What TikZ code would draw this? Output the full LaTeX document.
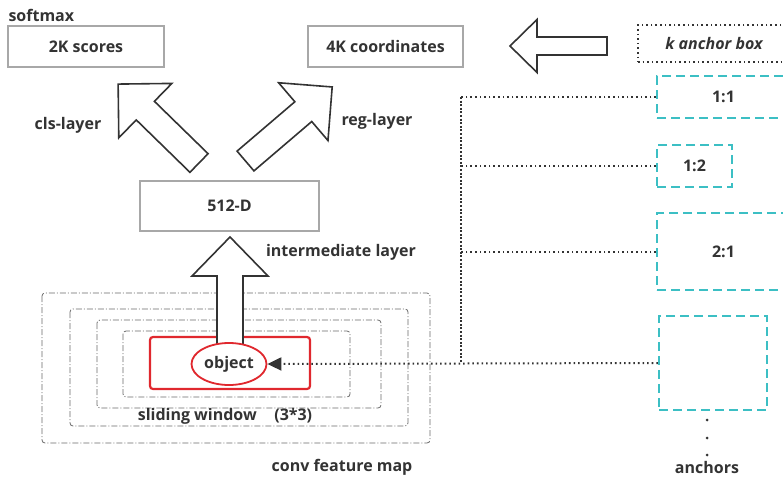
\documentclass[tikz,border=0pt]{standalone}
\usepackage{fontspec}
\setmainfont{Open Sans}
\usepackage{tikz}
\usetikzlibrary{positioning,shapes.geometric,arrows.meta}

\definecolor{txt}{HTML}{333333}
\definecolor{boxgray}{HTML}{A8A8A8}
\definecolor{framegray}{HTML}{6A6A6A}
\definecolor{objred}{HTML}{E0282E}
\definecolor{teal}{HTML}{3CBFC4}

\begin{document}
\begin{tikzpicture}[x=1pt, y=-1pt,
    every node/.style = {font=\bfseries\fontsize{16}{18}\selectfont, text=txt},
    graybox/.style = {draw=boxgray, line width=1.8pt, rectangle},
    anchorbox/.style = {draw=teal, line width=2.2pt, dash pattern=on 9pt off 5pt, rectangle},
    frame/.style = {draw=framegray, line width=0.8pt, dash pattern=on 6pt off 2pt on 1pt off 2pt, rounded corners=3pt},
    blockarrow/.style = {draw=txt, line width=1.6pt, fill=white, line join=miter},
    link/.style = {draw=txt, line width=2pt, dash pattern=on 1.6pt off 3pt}]
        \useasboundingbox (0,0) rectangle (783,479);

        % output boxes
        \node[graybox, minimum width=156, minimum height=41] (scores) at (86,46.5) {2K scores};
        \node[graybox, minimum width=155, minimum height=41] (coords) at (385.5,46.5) {4K coordinates};
        \node[anchor=west] (softmax) at (5,15) {softmax};
        \node[graybox, minimum width=179, minimum height=50] (feat) at (229.5,206) {512-D};

        % anchor boxes
        \node[draw=txt, line width=2pt, dash pattern=on 1.6pt off 3pt, minimum width=152, minimum height=37] (kbox) at (714,43.5) {\itshape k anchor box};
        \node[anchorbox, minimum width=133, minimum height=42] (a11) at (723.5,97) {1:1};
        \node[anchorbox, minimum width=75, minimum height=42] (a12) at (694.5,166) {1:2};
        \node[anchorbox, minimum width=133, minimum height=77] (a21) at (723.5,251.5) {2:1};
        \node[anchorbox, minimum width=108, minimum height=94] (a4) at (713,363) {};
        \fill[txt] (707,420) circle (1.5) (707,438) circle (1.5) (707,455) circle (1.5);
        \node (anchors) at (707,467) {anchors};

        % conv feature map with sliding windows
        \draw[frame] (42,293) rectangle (430,443);
        \draw[frame] (70,309) rectangle (408,426);
        \draw[frame] (97,320) rectangle (381,408);
        \draw[frame] (123,331) rectangle (350,397);
        \draw[draw=objred, line width=2.2pt, rounded corners=3pt] (150,337) rectangle (310,389);
        \node (slide) at (225,416) {sliding window\hspace{1.1em}(3*3)};
        \node (conv) at (342,467) {conv feature map};

        % block arrows
        \coordinate (midbase) at (230,356);
        \coordinate (clsbase) at (199,163);
        \coordinate (regbase) at (245.5,161);
        \coordinate (kbase) at (607,46);
        \draw[blockarrow, shift={(midbase)}, rotate=90] (0,-13) -- (80,-13) -- (80,-38) -- (119,0) -- (80,38) -- (80,13) -- (0,13) -- cycle;
        \draw[blockarrow, shift={(clsbase)}, rotate=135.7] (0,-13) -- (75,-13) -- (75,-38) -- (113,0) -- (75,38) -- (75,13) -- (0,13) -- cycle;
        \draw[blockarrow, shift={(regbase)}, rotate=40.5] (0,-13) -- (76,-13) -- (76,-38) -- (114,0) -- (76,38) -- (76,13) -- (0,13) -- cycle;
        \draw[blockarrow, shift={(kbase)}, rotate=180] (0,-9) -- (70,-9) -- (70,-26.5) -- (97,0) -- (70,26.5) -- (70,9) -- (0,9) -- cycle;

        \node[ellipse, draw=objred, line width=1.8pt, fill=white, minimum width=75, minimum height=42, inner sep=0pt] (obj) at (229,364) {object};

        \node (cls) at (68,125) {cls-layer};
        \node (reg) at (377,121) {reg-layer};
        \node (inter) at (341,252) {intermediate layer};

        % anchors to the object
        \coordinate (bus) at (461,97);
        \draw[link] (a11.west) -- (a11.west -| bus);
        \draw[link] (a12.west) -- (a12.west -| bus);
        \draw[link] (a21.west) -- (a21.west -| bus);
        \draw[link, line width=2.4pt, dash pattern=on 2pt off 1.6pt] (bus) -- (bus |- a4.west);
        \draw[link, -{Triangle[length=14pt, width=13pt]}] (a4.west) -- (obj.east);
      \end{tikzpicture}
\end{document}
